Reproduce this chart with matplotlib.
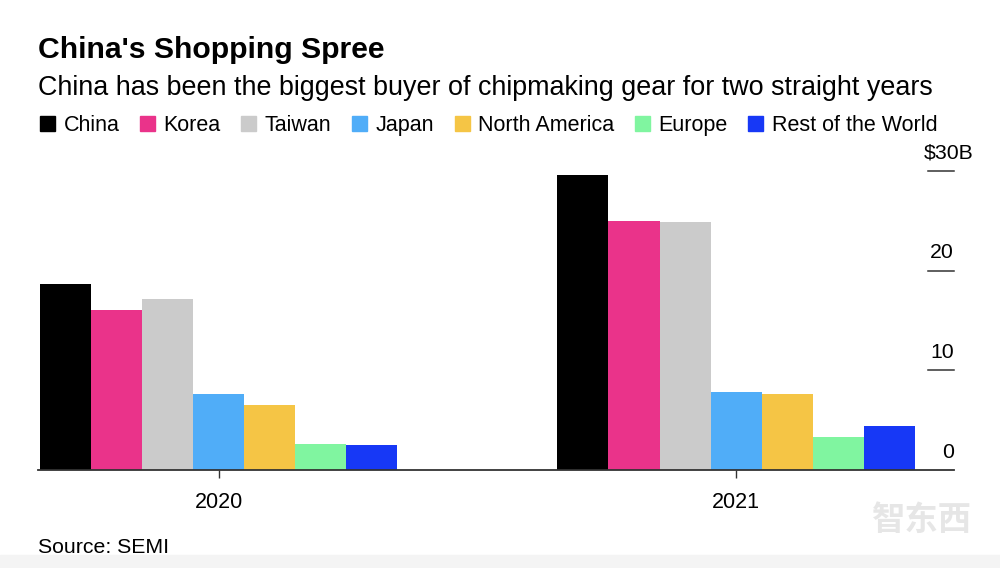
import numpy as np
import matplotlib
matplotlib.use("Agg")
import matplotlib.pyplot as plt
from matplotlib.patches import Patch, Rectangle

plt.rcParams['font.family'] = ['Liberation Sans', 'DejaVu Sans']

YEARS = ["2020", "2021"]
REGIONS = ["China", "Korea", "Taiwan", "Japan", "North America", "Europe",
           "Rest of the World"]
SPEND = {
    "China": [18.7, 29.6],
    "Korea": [16.1, 25.0],
    "Taiwan": [17.2, 24.9],
    "Japan": [7.6, 7.8],
    "North America": [6.5, 7.6],
    "Europe": [2.6, 3.3],
    "Rest of the World": [2.5, 4.4],
}
COLORS = ["#000000", "#EA338A", "#CBCBCB", "#50ADF8", "#F5C545", "#80F5A0",
          "#1738F6"]
YTICKS = [0, 10, 20, 30]
YTICK_LABELS = ["0", "10", "20", "$30B"]

W, H = 1000, 568
fig = plt.figure(figsize=(W / 100, H / 100), dpi=100)
ax = fig.add_axes([38 / W, 1 - 470 / H, (954 - 38) / W, (470 - 171) / H])

x = np.arange(len(YEARS))
width = 0.0987
for i, (region, color) in enumerate(zip(REGIONS, COLORS)):
    offset = (i - (len(REGIONS) - 1) / 2) * width
    ax.bar(x + offset, SPEND[region], width, color=color, linewidth=0,
           label=region, clip_on=False)

ax.set_xlim(-0.349, 1.421)
ax.set_ylim(0, 30)
for s in ["top", "left", "right"]:
    ax.spines[s].set_visible(False)
ax.spines["bottom"].set_color("#333333")
ax.spines["bottom"].set_linewidth(1.3)
ax.set_xticks(x)
ax.set_xticklabels(YEARS, fontsize=15.5)
ax.tick_params(axis="x", length=6, width=1, color="#333333", pad=10)

# y ticks: short lines at the right edge with labels sitting above them
ax.set_yticks([])
ytrans = ax.get_yaxis_transform()
for v, lab in zip(YTICKS, YTICK_LABELS):
    if v > 0:
        ax.plot([1 - 26 / 916, 1], [v, v], color="#333333", lw=1.1,
                transform=ytrans, clip_on=False)
    dx = 14 if lab.startswith("$") else 0
    ax.annotate(lab, (1, v), xycoords=ytrans, xytext=(dx, 9),
                textcoords="offset points", ha="right", va="baseline",
                fontsize=15.3)

fig.text(38 / W, 1 - 58 / H, "China's Shopping Spree", fontsize=21.7,
         fontweight="bold", va="baseline")
fig.text(38 / W, 1 - 95 / H,
         "China has been the biggest buyer of chipmaking gear for two straight years",
         fontsize=19.35, va="baseline")

handles = [Patch(color=c, label=r) for r, c in zip(REGIONS, COLORS)]
fig.legend(handles=handles, loc="upper left", bbox_to_anchor=(40 / W, 1 - 115 / H),
           ncol=7, frameon=False, fontsize=15.5, handlelength=0.7,
           handleheight=0.7, handletextpad=0.4, columnspacing=0.95,
           borderpad=0, borderaxespad=0)

fig.text(38 / W, 1 - 553 / H, "Source: SEMI", fontsize=15.3, va="baseline")

# faint watermark and bottom strip
fig.text(922 / W, 1 - 530 / H, "智东西", fontsize=24, color="#e6e6e6",
         ha="center", va="baseline", family=["Noto Sans CJK SC", "DejaVu Sans"],
         fontweight="bold")
fig.patches.append(Rectangle((0, 0), 1, 13 / H, transform=fig.transFigure,
                             color="#f4f4f4", zorder=-1))

fig.savefig("out.png", dpi=100)
